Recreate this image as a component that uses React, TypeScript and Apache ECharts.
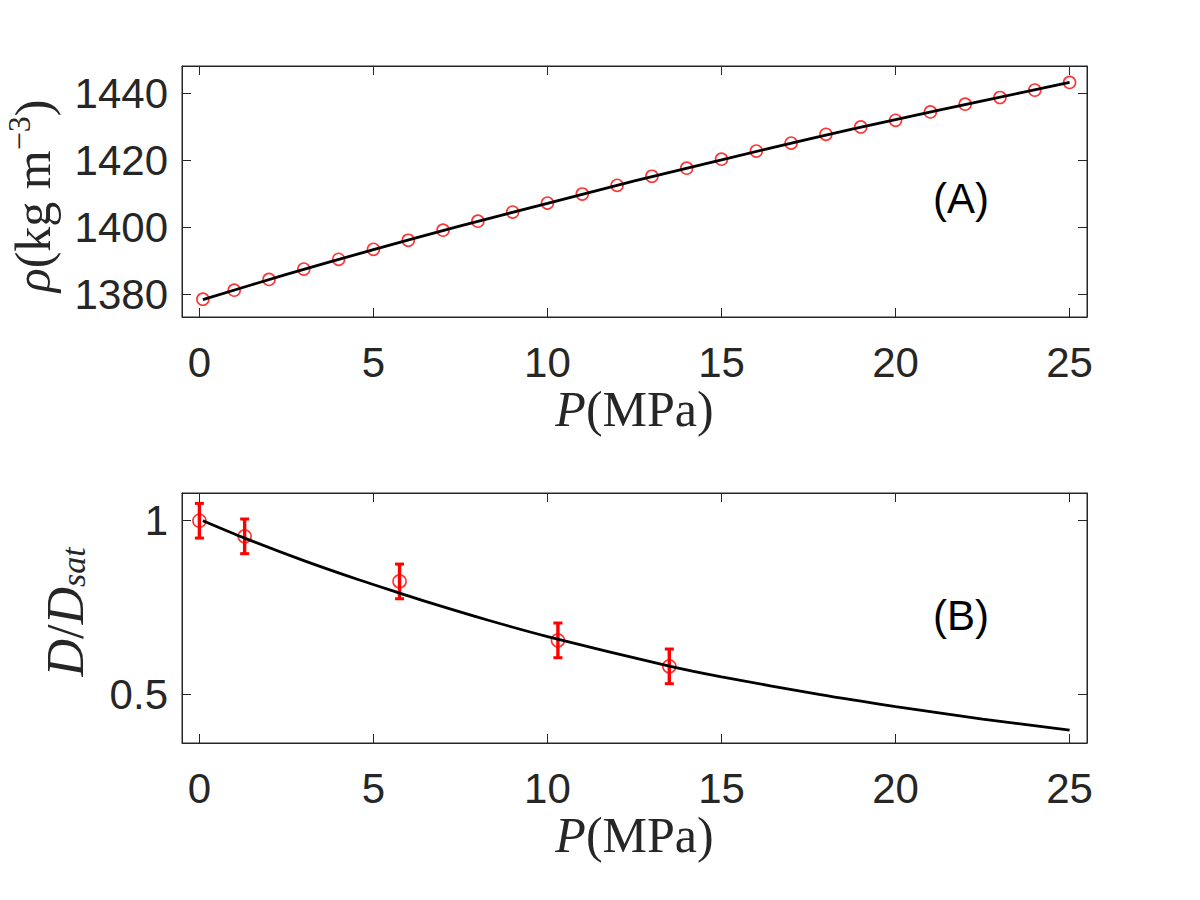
import React, { useEffect, useRef } from "react";
import * as echarts from "echarts";

// Panel A: density vs pressure
const rhoP = [0.1, 1, 2, 3, 4, 5, 6, 7, 8, 9, 10, 11, 12, 13, 14, 15, 16, 17, 18, 19, 20, 21, 22, 23, 24, 25];
const rhoData = [1378.6, 1381.3, 1384.5, 1387.6, 1390.5, 1393.5, 1396.2, 1399.2, 1401.9, 1404.6, 1407.3, 1410.0, 1412.6, 1415.3, 1417.7, 1420.4, 1422.8, 1425.2, 1427.8, 1430.0, 1432.0, 1434.5, 1436.8, 1438.8, 1441.0, 1443.3];
const rhoFitP = [0.1, 2.5, 5, 7.5, 10, 12.5, 15, 17.5, 20, 22.5, 25];
const rhoFit = [1378.5, 1386.0, 1393.4, 1400.5, 1407.2, 1413.9, 1420.2, 1426.4, 1432.2, 1437.8, 1443.3];

// Panel B: normalized diffusivity vs pressure
const dP = [0, 1.3, 5.75, 10.3, 13.5];
const dVal = [1.0, 0.955, 0.825, 0.655, 0.58];
const dErr = [0.05, 0.05, 0.05, 0.05, 0.05];
const dFitP = [0.1, 1.3, 3, 4.6, 5.8, 6.8, 8.3, 10, 13.5, 15, 17.8, 20, 22.5, 25];
const dFit = [1.0, 0.95, 0.885, 0.829, 0.79, 0.758, 0.713, 0.666, 0.581, 0.55, 0.499, 0.464, 0.428, 0.396];

// Ticks
const xTicks = [0, 5, 10, 15, 20, 25];
const rhoTicks = [1380, 1400, 1420, 1440];
const dTicks = [0.5, 1];

const AX = "#262626";
const SANS = "Liberation Sans, Arial, Helvetica, sans-serif";
const SERIF = "Liberation Serif, Times New Roman, serif";

function xAxisDef(grid: number, main: boolean) {
  return {
    type: "value",
    gridIndex: grid,
    position: main ? "bottom" : "top",
    min: -0.5,
    max: 25.5,
    axisLine: { show: true, onZero: false, lineStyle: { color: AX, width: 1 } },
    axisTick: { show: true, inside: true, length: 9, customValues: xTicks, lineStyle: { color: AX, width: 1 } },
    axisLabel: main
      ? { show: true, customValues: xTicks, fontSize: 42, fontFamily: SANS, color: AX, margin: 24, formatter: (v: number) => String(v) }
      : { show: false },
    splitLine: { show: false },
    name: main ? "{i|P}{r|(MPa)}" : "",
    nameLocation: "middle",
    nameGap: 63,
    nameTextStyle: {
      rich: {
        i: { fontFamily: SERIF, fontStyle: "italic", fontSize: 50, color: AX },
        r: { fontFamily: SERIF, fontSize: 50, color: AX },
      },
    },
  };
}

function yAxisDef(grid: number, main: boolean, min: number, max: number, ticks: number[]) {
  return {
    type: "value",
    gridIndex: grid,
    position: main ? "left" : "right",
    min,
    max,
    axisLine: { show: true, onZero: false, lineStyle: { color: AX, width: 1 } },
    axisTick: { show: true, inside: true, length: 9, customValues: ticks, lineStyle: { color: AX, width: 1 } },
    axisLabel: main
      ? { show: true, customValues: ticks, fontSize: 42, fontFamily: SANS, color: AX, margin: 14, formatter: (v: number) => String(v) }
      : { show: false },
    splitLine: { show: false },
  };
}

export default function App() {
  const ref = useRef<HTMLDivElement>(null);
  useEffect(() => {
    document.body.style.margin = "0";
    if (!ref.current) return;
    const chart = echarts.init(ref.current, undefined, { renderer: "svg" });
    const errData = dP.map((p, i) => [p, dVal[i] - dErr[i], dVal[i] + dErr[i]]);
    const option: any = {
      animation: false,
      backgroundColor: "#ffffff",
      grid: [
        { left: 182, top: 66, width: 905, height: 251, show: true, borderColor: AX, borderWidth: 1, backgroundColor: "transparent", containLabel: false, outerBoundsMode: "none" },
        { left: 182, top: 493, width: 905, height: 250, show: true, borderColor: AX, borderWidth: 1, backgroundColor: "transparent", containLabel: false, outerBoundsMode: "none" },
      ],
      xAxis: [xAxisDef(0, true), xAxisDef(0, false), xAxisDef(1, true), xAxisDef(1, false)],
      yAxis: [
        yAxisDef(0, true, 1373.3, 1448.2, rhoTicks),
        yAxisDef(0, false, 1373.3, 1448.2, rhoTicks),
        yAxisDef(1, true, 0.359, 1.08, dTicks),
        yAxisDef(1, false, 0.359, 1.08, dTicks),
      ],
      series: [
        {
          type: "scatter",
          xAxisIndex: 0,
          yAxisIndex: 0,
          data: rhoP.map((p, i) => [p, rhoData[i]]),
          symbol: "circle",
          symbolSize: 12,
          itemStyle: { color: "transparent", borderColor: "#ff0000", borderWidth: 1.6 },
          z: 2,
        },
        {
          type: "line",
          xAxisIndex: 0,
          yAxisIndex: 0,
          data: rhoFitP.map((p, i) => [p, rhoFit[i]]),
          smooth: 0.3,
          showSymbol: false,
          lineStyle: { color: "#000000", width: 2.8 },
          z: 3,
        },
        {
          type: "custom",
          xAxisIndex: 2,
          yAxisIndex: 2,
          data: errData,
          encode: { x: 0, y: [1, 2] },
          renderItem: (params: any, api: any) => {
            const x = api.value(0);
            const lo = api.coord([x, api.value(1)]);
            const hi = api.coord([x, api.value(2)]);
            const st = { stroke: "#ff0000", lineWidth: 3.4 };
            const cw = 4.5;
            return {
              type: "group",
              children: [
                { type: "line", shape: { x1: lo[0], y1: lo[1], x2: hi[0], y2: hi[1] }, style: st },
                { type: "line", shape: { x1: lo[0] - cw, y1: lo[1], x2: lo[0] + cw, y2: lo[1] }, style: { stroke: "#ff0000", lineWidth: 3 } },
                { type: "line", shape: { x1: hi[0] - cw, y1: hi[1], x2: hi[0] + cw, y2: hi[1] }, style: { stroke: "#ff0000", lineWidth: 3 } },
              ],
            };
          },
          z: 2,
        },
        {
          type: "scatter",
          xAxisIndex: 2,
          yAxisIndex: 2,
          data: dP.map((p, i) => [p, dVal[i]]),
          symbol: "circle",
          symbolSize: 13,
          itemStyle: { color: "transparent", borderColor: "#ff0000", borderWidth: 1.6 },
          z: 2,
        },
        {
          type: "line",
          xAxisIndex: 2,
          yAxisIndex: 2,
          data: dFitP.map((p, i) => [p, dFit[i]]),
          smooth: 0.3,
          showSymbol: false,
          lineStyle: { color: "#000000", width: 2.8 },
          z: 3,
        },
      ],
      graphic: [
        {
          type: "text",
          x: 33,
          y: 196,
          rotation: Math.PI / 2,
          style: {
            text: "{i|ρ}{r|(kg m}{sup|−3}{r|)}",
            textAlign: "center",
            textVerticalAlign: "middle",
            rich: {
              i: { fontFamily: SERIF, fontStyle: "italic", fontSize: 50, fill: AX, lineHeight: 60 },
              r: { fontFamily: SERIF, fontSize: 50, fill: AX, lineHeight: 60 },
              sup: { fontFamily: SERIF, fontSize: 32, fill: AX, lineHeight: 60, padding: [0, 0, 28, 0] },
            },
          },
        },
        {
          type: "text",
          x: 65,
          y: 612,
          rotation: Math.PI / 2,
          style: {
            text: "{i|D}{r|/}{i|D}{sub|sat}",
            textAlign: "center",
            textVerticalAlign: "middle",
            rich: {
              i: { fontFamily: SERIF, fontStyle: "italic", fontSize: 52, fill: AX, lineHeight: 60 },
              r: { fontFamily: SERIF, fontSize: 52, fill: AX, lineHeight: 60 },
              sub: { fontFamily: SERIF, fontStyle: "italic", fontSize: 34, fill: AX, lineHeight: 60, padding: [16, 0, 0, 0] },
            },
          },
        },
        { type: "text", x: 961, y: 198, style: { text: "(A)", font: `42px ${SANS}`, fill: "#000", textAlign: "center", textVerticalAlign: "middle" } },
        { type: "text", x: 961, y: 615, style: { text: "(B)", font: `42px ${SANS}`, fill: "#000", textAlign: "center", textVerticalAlign: "middle" } },
      ],
    };
    chart.setOption(option);
    return () => chart.dispose();
  }, []);
  return <div ref={ref} style={{ position: "fixed", left: 0, top: 0, width: 1200, height: 900 }} />;
}
